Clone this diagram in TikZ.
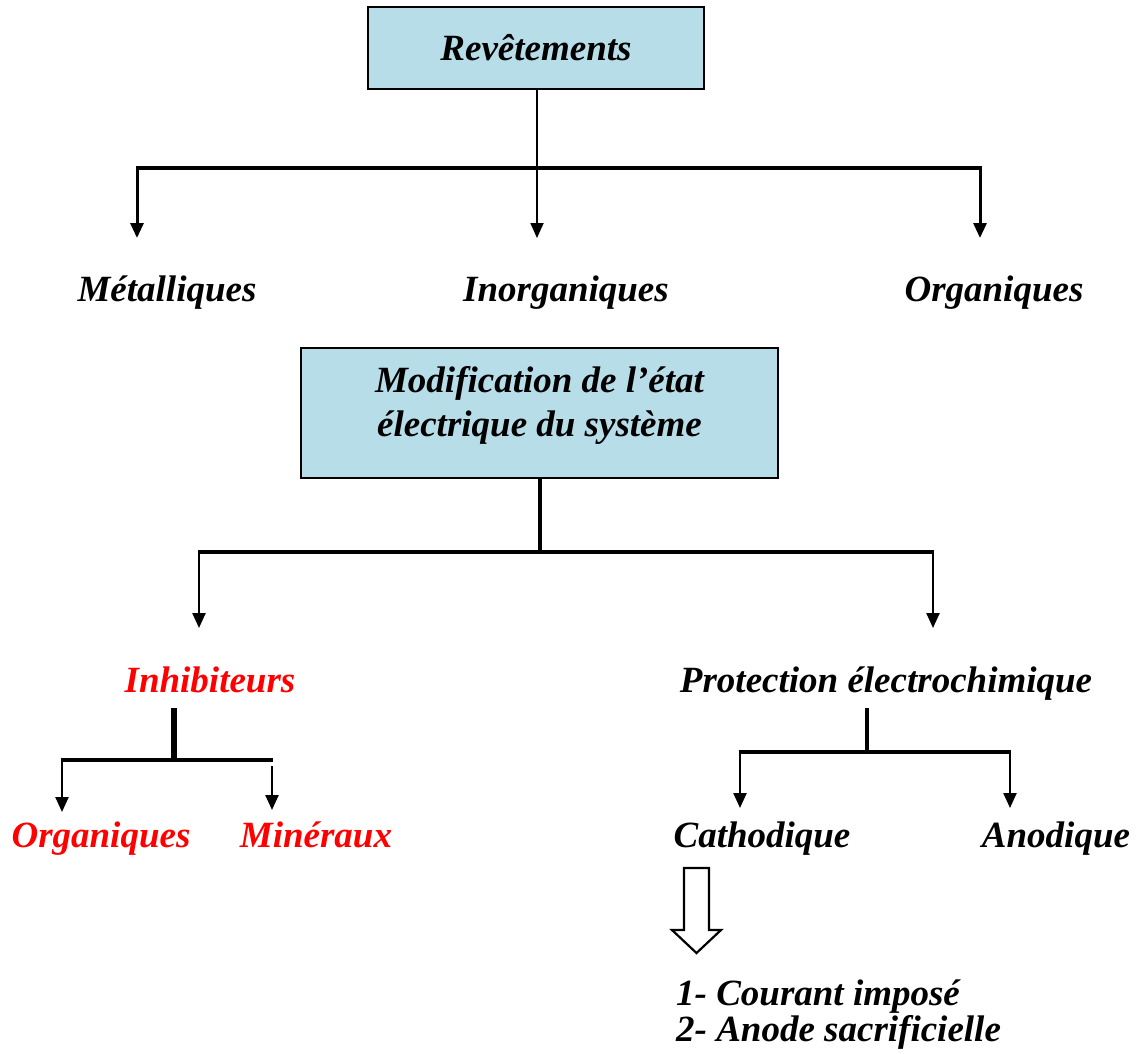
\documentclass[tikz,border=0pt]{standalone}
\usepackage{fontspec}
\setmainfont{Liberation Serif}
\usetikzlibrary{arrows.meta}
\definecolor{boxblue}{HTML}{B7DDE8}
\definecolor{myred}{HTML}{FF0000}
\begin{document}
\begin{tikzpicture}[x=1pt,y=-1pt,
  lbl/.style={font=\fontsize{37}{43}\selectfont\bfseries\itshape, inner sep=0pt, anchor=base},
  redlbl/.style={lbl, text=myred},
  bluebox/.style={draw=black, line width=1.8pt, fill=boxblue, inner sep=0pt, align=center,
     font=\fontsize{37}{44}\selectfont\bfseries\itshape},
  arr/.style={-{Triangle[width=13pt,length=15pt]}},
  hollow/.style={draw=black, line width=2.2pt, fill=white, line join=miter}
]
\useasboundingbox (0,0) rectangle (1144,1053);

% ---- Level 1 ----
\node[bluebox, minimum width=336pt, minimum height=82pt] (rev) at (536,48) {Revêtements};

\coordinate (h1L) at (137,168);
\coordinate (h1R) at (980,168);
\coordinate (t1a) at (137,238);
\coordinate (t1b) at (537,238);
\coordinate (t1c) at (980,238);

\draw[line width=3.6pt] ([xshift=-1.5pt]h1L) -- ([xshift=1.5pt]h1R);
\draw[arr, line width=1.8pt] (rev.south -| t1b) -- (t1b);
\draw[arr, line width=3pt] (h1L) -- (t1a);
\draw[arr, line width=3pt] (h1R) -- (t1c);

\node[lbl] (met) at (167,301) {Métalliques};
\node[lbl] (inorg) at (566,301) {Inorganiques};
\node[lbl] (org) at (994,301) {Organiques};

% ---- Level 2 ----
\node[bluebox, minimum width=477pt, minimum height=130pt] (mod) at (539.5,413)
  {Modification de l’état\\ électrique du système\\[-21pt]\mbox{}};

\coordinate (j2) at (539.5,552);
\coordinate (h2L) at (199,552);
\coordinate (h2R) at (933,552);
\coordinate (t2a) at (199,628);
\coordinate (t2b) at (933,628);

\draw[line width=4pt] (mod.south) -- (j2);
\draw[line width=3.5pt] ([xshift=-1.2pt]h2L) -- ([xshift=1.2pt]h2R);
\draw[arr, line width=2.4pt] (h2L) -- (t2a);
\draw[arr, line width=2.4pt] (h2R) -- (t2b);

\node[redlbl] (inh) at (210,692) {Inhibiteurs};
\node[lbl] (prot) at (886,692) {Protection électrochimique};

% ---- Inhibiteurs branch ----
\coordinate (i0) at (174,708);
\coordinate (i1) at (174,760);
\coordinate (iL) at (62,760);
\coordinate (iR) at (272,760);
\coordinate (tiL) at (62,812);
\coordinate (tiR) at (272,810);
\draw[line width=5.5pt] (i0) -- (i1);
\draw[line width=3.5pt] ([xshift=-1.2pt]iL) -- ([xshift=1.2pt]iR);
\draw[arr, line width=2.4pt] (iL) -- (tiL);
\draw[arr, line width=2.4pt] ([yshift=-6pt]iR) -- (tiR);

\node[redlbl] (org2) at (101,847) {Organiques};
\node[redlbl] (min) at (316,847) {Minéraux};

% ---- Protection branch ----
\coordinate (p0) at (867,708);
\coordinate (p1) at (867,752);
\coordinate (pL) at (740,752);
\coordinate (pR) at (1010,752);
\coordinate (tpL) at (740,808);
\coordinate (tpR) at (1010,808);
\draw[line width=4pt] (p0) -- (p1);
\draw[line width=3.5pt] ([xshift=-1.2pt]pL) -- ([xshift=1.2pt]pR);
\draw[arr, line width=2.4pt] (pL) -- (tpL);
\draw[arr, line width=2.4pt] (pR) -- (tpR);

\node[lbl] (cath) at (762,847) {Cathodique};
\node[lbl] (anod) at (1056,847) {Anodique};

% ---- Hollow arrow ----
\draw[hollow] (684,868) -- (709,868) -- (709,930) -- (721,930) -- (696.5,953)
  -- (672,930) -- (684,930) -- cycle;

\node[lbl, anchor=base west] (l1) at (676,1005) {1- Courant imposé};
\node[lbl, anchor=base west] (l2) at (676,1041) {2- Anode sacrificielle};
\end{tikzpicture}
\end{document}
